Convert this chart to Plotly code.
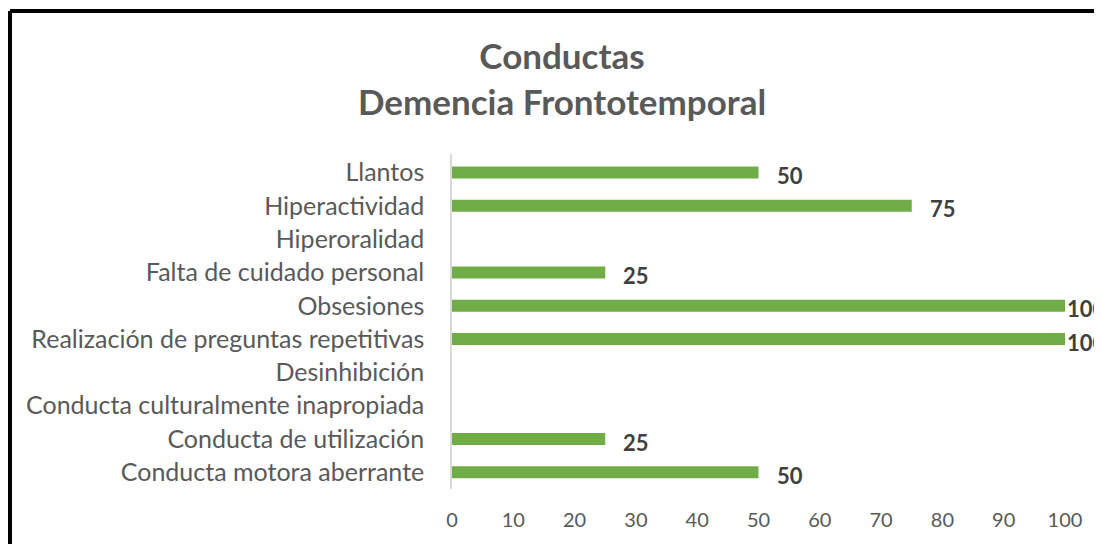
import plotly.graph_objects as go

categories = [
    "Llantos",
    "Hiperactividad",
    "Hiperoralidad",
    "Falta de cuidado personal",
    "Obsesiones",
    "Realización de preguntas repetitivas",
    "Desinhibición",
    "Conducta culturalmente inapropiada",
    "Conducta de utilización",
    "Conducta motora aberrante",
]
values = [50, 75, None, 25, 100, 100, None, None, 25, 50]
x_ticks = [0, 10, 20, 30, 40, 50, 60, 70, 80, 90, 100]

# page body has an 8px margin, so figure coords = reference coords - 8
W, H = 1094, 536
L, R, T, B = 444, 37, 146, 55
pw, ph = W - L - R, H - T - B

FONT = "Lato"
GRAY = "#595959"

fig = go.Figure()
fig.add_trace(go.Bar(
    y=categories, x=values, orientation="h",
    marker=dict(color="#70AD47", line=dict(width=0)),
    width=0.36, hoverinfo="x+y",
))

annotations = []
for c, v in zip(categories, values):
    if v is None:
        continue
    annotations.append(dict(
        x=v, y=c, xref="x", yref="y", text=f"<b>{v}</b>",
        xanchor="left", yanchor="middle", showarrow=False,
        xshift=16 if v < 100 else 0, yshift=-3,
        font=dict(family=FONT, size=22, color="#404040"),
    ))

fig.update_layout(
    width=W, height=H,
    margin=dict(l=L, r=R, t=T, b=B, autoexpand=False),
    paper_bgcolor="white", plot_bgcolor="white",
    showlegend=False,
    title=dict(
        text="<b>Conductas</b><br><b>Demencia Frontotemporal</b>",
        x=554 / W, xref="container", xanchor="center",
        y=1 - 61 / H, yref="container", yanchor="middle",
        font=dict(family=FONT, size=35, color=GRAY),
    ),
    xaxis=dict(
        range=[0, 100], tickvals=x_ticks, showgrid=False, zeroline=False,
        showline=False, ticks="", ticklabelstandoff=17,
        tickfont=dict(family=FONT, size=20, color=GRAY),
        fixedrange=True,
    ),
    yaxis=dict(
        autorange="reversed", showgrid=False, zeroline=False,
        showline=True, linecolor="#D9D9D9", linewidth=1.5,
        ticks="", ticklabelstandoff=21,
        tickfont=dict(family=FONT, size=25, color=GRAY),
        fixedrange=True,
    ),
    annotations=annotations,
)

# outer chart border (thick black, left and top edges visible)
bx = (2 - L) / pw
by = (H - B - 3) / ph
fig.add_shape(type="line", xref="paper", yref="paper", x0=bx, x1=bx, y0=-1, y1=by,
              line=dict(color="black", width=4))
fig.add_shape(type="line", xref="paper", yref="paper", x0=bx, x1=2, y0=by, y1=by,
              line=dict(color="black", width=4))

fig.update_traces(cliponaxis=False)
fig.write_html("out.html")
